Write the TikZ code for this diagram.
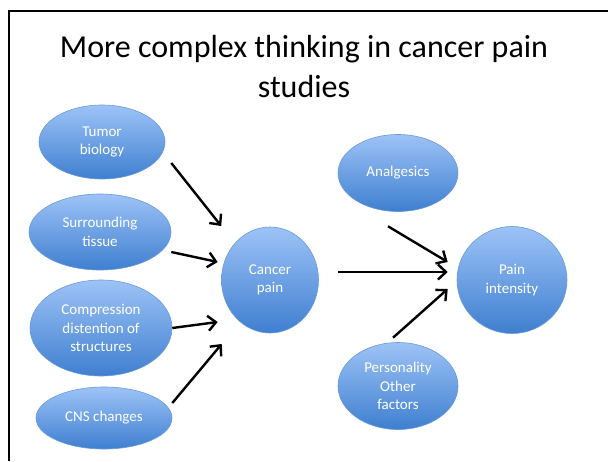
\documentclass[tikz,border=0pt]{standalone}
\usepackage{fontspec}
\setmainfont{Carlito}
\usetikzlibrary{shapes.geometric,arrows.meta}
\definecolor{bubtop}{HTML}{9DC3F7}
\definecolor{bubbot}{HTML}{3F7FD0}
\definecolor{bubedge}{HTML}{6A9AD8}
\begin{document}
\begin{tikzpicture}[x=1pt,y=-1pt,
        bubble/.style={ellipse,draw=bubedge,line width=0.6pt,top color=bubtop,bottom color=bubbot,
            text=white,font=\fontsize{15}{18.5}\selectfont,align=center,inner sep=0pt},
        link/.style={line width=2.4pt,-{Straight Barb[length=8pt,width=15pt]}}]
    \useasboundingbox (0,0) rectangle (608,461);
    \draw[line width=2pt] (9,461) -- (9,11) -- (608,11);
    \node[font=\fontsize{32}{40}\selectfont,align=center,anchor=base] (title) at (304,97)
        {More complex thinking in cancer pain\\studies};
    % causes
    \node[bubble,minimum width=126pt,minimum height=74pt] (tumor) at (102,142) {Tumor\\biology};
    \node[bubble,minimum width=142pt,minimum height=76pt] (tissue) at (100,232) {Surrounding\\tissue};
    \node[bubble,minimum width=142pt,minimum height=96pt] (compress) at (101,328) {Compression\\distention of\\structures};
    \node[bubble,minimum width=136pt,minimum height=62pt] (cns) at (104,418) {CNS changes};
    \node[bubble,minimum width=97pt,minimum height=106pt] (cancer) at (270,280) {Cancer\\pain};
    % right side
    \node[bubble,minimum width=120pt,minimum height=77pt] (analg) at (398,173) {Analgesics};
    \node[bubble,minimum width=110pt,minimum height=107pt] (pint) at (512,280) {Pain\\intensity};
    \node[bubble,minimum width=120pt,minimum height=87pt] (person) at (398,386) {Personality\\Other\\factors};
    \draw[link] ([shift={(6,21)}]tumor.east) -- ([shift={(0,-54)}]cancer.west);
    \draw[link] ([shift={(0,20)}]tissue.east) -- ([shift={(-3.5,-18)}]cancer.west);
    \draw[link] (compress.east) -- ([shift={(-3.5,42)}]cancer.west);
    \draw[link] ([shift={(0,-15)}]cns.east) -- ([shift={(0.5,64)}]cancer.west);
    \draw[link] ([shift={(-10,14.5)}]analg.south) -- ([shift={(-9,-18)}]pint.west);
    \draw[link] ([shift={(19.5,-8)}]cancer.east) -- ([shift={(-9,-8)}]pint.west);
    \draw[link] ([shift={(-5,-4.5)}]person.north) -- ([shift={(-9,9)}]pint.west);
\end{tikzpicture}
\end{document}
